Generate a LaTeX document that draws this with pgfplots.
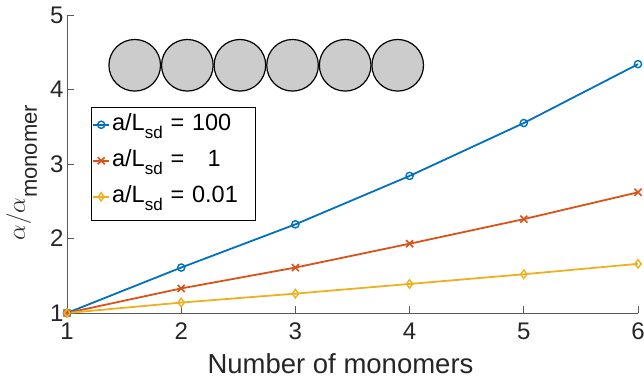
\documentclass[border=0pt]{standalone}
\usepackage{pgfplots}
\pgfplotsset{compat=1.18}
\usepackage{fontspec}
\setmainfont{Liberation Sans}
\definecolor{mblue}{rgb}{0,0.447,0.741}
\definecolor{mred}{rgb}{0.85,0.325,0.098}
\definecolor{myellow}{rgb}{0.929,0.694,0.125}
\definecolor{mgray}{rgb}{0.8,0.8,0.8}
\begin{document}
\begin{tikzpicture}
\begin{axis}[
  name=ax,
  scale only axis,
  width=571bp, height=298bp,
  xmin=1, xmax=6, ymin=1, ymax=5,
  xtick={1,2,3,4,5,6}, ytick={1,2,3,4,5},
  axis x line=bottom, axis y line=left,
  axis line style={-, black!65, line width=0.8bp},
  tick style={black!65, line width=0.8bp},
  tick align=inside,
  major tick length=7bp,
  clip=false,
  /pgf/number format/assume math mode=true,
  tick label style={font=\fontsize{24bp}{28bp}\selectfont, text=black!85},
  xticklabel style={yshift=-6bp},
  xlabel={Number of monomers},
  xlabel style={at={(rel axis cs:0.479,0)}, anchor=base, yshift=-60bp, font=\fontsize{27.5bp}{30bp}\selectfont, text=black!85},
  ylabel={$\alpha/\alpha$\raisebox{-12bp}{\fontsize{22bp}{24bp}\selectfont monomer}},
  ylabel style={at={(rel axis cs:-0.0736,0.471)}, anchor=base, font=\fontsize{27bp}{30bp}\selectfont, text=black!85},
  legend style={
    at={(rel axis cs:0.042,0.6913)}, anchor=north west,
    draw=black, line width=0.6bp, fill=white,
    inner xsep=1bp, inner ysep=8bp,
    row sep=11bp,
    font=\fontsize{23.5bp}{26bp}\selectfont,
    nodes={inner xsep=2bp, inner ysep=0pt, text height=15bp, text depth=10bp, text width=140bp},
  },
  legend cell align=left,
  legend image code/.code={\draw[mark repeat=2,mark phase=2,yshift=3bp] plot coordinates {(0bp,0bp) (8bp,0bp) (16bp,0bp)};},
]
\addplot[forget plot, only marks, mark=*, mark size=25.8bp, mark options={fill=mgray, draw=black, line width=1.2bp}]
  coordinates {(1.593,4.325) (2.054,4.325) (2.514,4.325) (2.975,4.325) (3.436,4.325) (3.896,4.325)};
\addplot[mblue, line width=1.8bp, mark=o, mark size=3.6bp, mark options={solid, line width=1.4bp}]
  coordinates {(1,1) (2,1.61) (3,2.19) (4,2.84) (5,3.55) (6,4.34)};
\addlegendentry{a/L\raisebox{-8bp}{\fontsize{17bp}{18bp}\selectfont sd} = 100}
\addplot[mred, line width=1.8bp, mark=x, mark size=5bp, mark options={solid, line width=1.6bp}]
  coordinates {(1,1) (2,1.33) (3,1.61) (4,1.93) (5,2.26) (6,2.62)};
\addlegendentry{a/L\raisebox{-8bp}{\fontsize{17bp}{18bp}\selectfont sd} =\ \ \ 1}
\addplot[myellow, line width=1.8bp, mark=diamond, mark size=4.2bp, mark options={solid, line width=1.4bp}]
  coordinates {(1,1) (2,1.14) (3,1.26) (4,1.39) (5,1.52) (6,1.66)};
\addlegendentry{a/L\raisebox{-8bp}{\fontsize{17bp}{18bp}\selectfont sd} = 0.01}
\end{axis}
\pgfresetboundingbox
\path[use as bounding box] ([shift={(-67bp,-68bp)}]ax.south west) rectangle ([shift={(577bp,313bp)}]ax.south west);
\end{tikzpicture}
\end{document}
